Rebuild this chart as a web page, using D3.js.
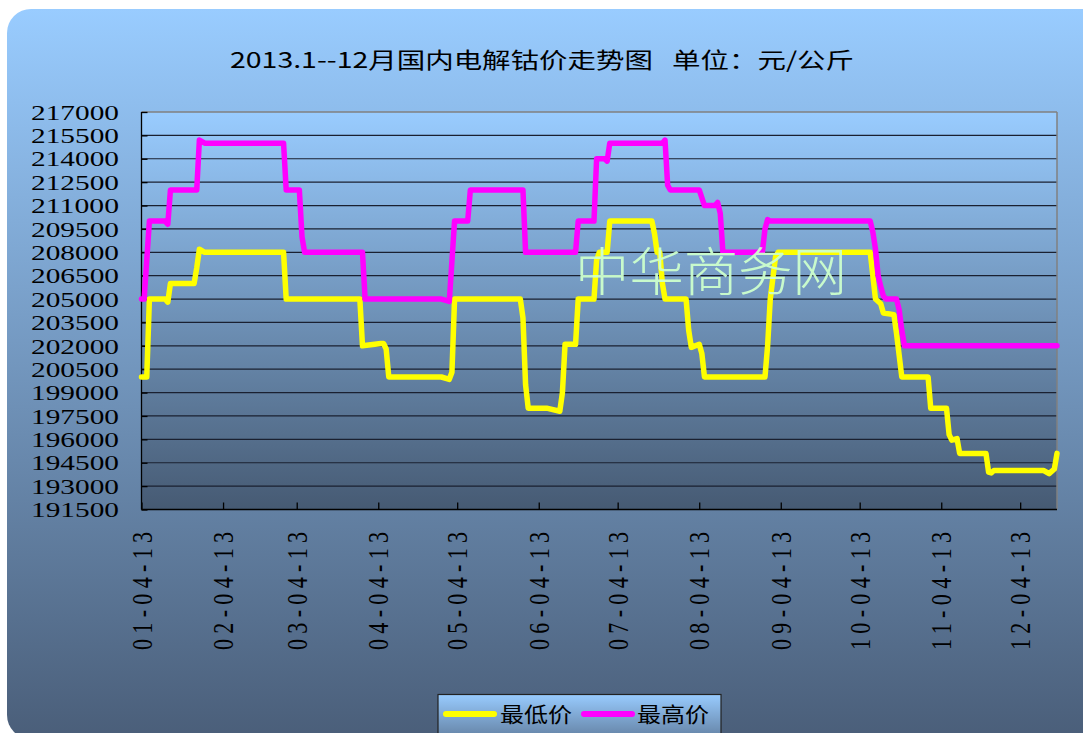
<!DOCTYPE html>
<html><head><meta charset="utf-8">
<script src="https://cdn.jsdelivr.net/npm/d3@7"></script>
<style>body{margin:0;background:#fff;} svg{display:block;}</style>
</head><body><svg id="chart" width="1083" height="733"></svg>
<script>
// ---------- data ----------
const chartTitle = "2013.1--12月国内电解钴价走势图\u00a0\u00a0\u00a0单位：元/公斤";
const seriesNames = ["最低价", "最高价"];
const seriesColors = ["#ffff00", "#ff00ff"];
const watermarkText = "中华商务网";

const lowDates = ["2013-01-04","2013-01-06","2013-01-07","2013-01-13","2013-01-14","2013-01-15","2013-01-24","2013-01-25","2013-01-26","2013-01-28",
  "2013-02-27","2013-02-28","2013-03-28","2013-03-29","2013-04-05","2013-04-06","2013-04-07","2013-04-08","2013-04-28","2013-05-01",
  "2013-05-02","2013-05-03","2013-05-28","2013-05-29","2013-05-30","2013-05-31","2013-06-07","2013-06-12","2013-06-13","2013-06-14",
  "2013-06-18","2013-06-19","2013-06-25","2013-06-26","2013-06-27","2013-06-30","2013-07-01","2013-07-17","2013-07-18","2013-07-19",
  "2013-07-20","2013-07-21","2013-07-22","2013-07-30","2013-07-31","2013-08-01","2013-08-04","2013-08-05","2013-08-06","2013-08-29",
  "2013-08-30","2013-08-31","2013-09-02","2013-09-03","2013-10-08","2013-10-10","2013-10-12","2013-10-13","2013-10-17","2013-10-18",
  "2013-10-20","2013-10-30","2013-10-31","2013-11-06","2013-11-07","2013-11-08","2013-11-10","2013-11-11","2013-11-21","2013-11-22",
  "2013-11-23","2013-11-24","2013-12-13","2013-12-15","2013-12-17","2013-12-18"];
const lowValues = [200000,200000,205000,205000,204800,206000,206000,207000,208200,208000,
  208000,205000,205000,202000,202150,202150,201800,200000,200000,199850,
  200300,205000,205000,203800,199500,198000,198000,197800,199000,202100,
  202100,205000,205000,207500,208000,208000,210000,210000,209200,208000,
  208000,206000,205000,205000,203000,201900,202100,201500,200000,200000,
  202000,205000,207700,208000,208000,205000,204700,204100,204000,202800,
  200000,200000,198000,198000,196300,195950,196050,195100,195100,193900,
  193850,194000,194000,193800,194100,195100];

const highDates = ["2013-01-04","2013-01-05","2013-01-07","2013-01-13","2013-01-14","2013-01-15","2013-01-25","2013-01-26","2013-01-28","2013-02-27",
  "2013-02-28","2013-03-05","2013-03-06","2013-03-07","2013-03-29","2013-03-30","2013-04-28","2013-05-01","2013-05-03","2013-05-08",
  "2013-05-09","2013-05-29","2013-05-30","2013-06-18","2013-06-19","2013-06-25","2013-06-26","2013-06-29","2013-06-30","2013-07-01",
  "2013-07-21","2013-07-22","2013-07-23","2013-07-24","2013-08-04","2013-08-06","2013-08-10","2013-08-11","2013-08-12","2013-08-13",
  "2013-08-28","2013-08-29","2013-08-30","2013-08-31","2013-10-08","2013-10-09","2013-10-10","2013-10-11","2013-10-12","2013-10-13",
  "2013-10-14","2013-10-18","2013-10-19","2013-10-20","2013-10-21","2013-12-18"];
const highValues = [205000,205000,210000,210000,209800,212000,212000,215200,215000,215000,
  212000,212000,209000,208000,208000,205000,205000,204850,210000,210000,
  212000,212000,208000,208000,210000,210000,214000,214000,213850,215000,
  215000,215200,212300,212000,212000,211000,211000,211200,210500,208000,
  208000,209500,210100,210000,210000,209300,208200,206500,205800,205200,
  205000,205000,204300,203000,202000,202000];

const yTickValues = [191500,193000,194500,196000,197500,199000,200500,202000,203500,205000,206500,208000,209500,211000,212500,214000,215500,217000];
const xTickDates = ["2013-01-04","2013-02-04","2013-03-04","2013-04-04","2013-05-04","2013-06-04","2013-07-04","2013-08-04","2013-09-04","2013-10-04","2013-11-04","2013-12-04"];
const xDomain = ["2013-01-04", "2013-12-18"];

// ---------- drawing ----------
const parse = d3.timeParse("%Y-%m-%d");
const fmt = d3.timeFormat("%m-%d-%y");
const svg = d3.select("#chart");
const P = {left: 141.5, right: 1057, top: 112, bottom: 509.5};

const defs = svg.append("defs");
function vgrad(id, stops, y1, y2) {
  const g = defs.append("linearGradient").attr("id", id)
    .attr("gradientUnits", "userSpaceOnUse").attr("x1", 0).attr("x2", 0).attr("y1", y1).attr("y2", y2);
  stops.forEach(s => g.append("stop").attr("offset", s[0]).attr("stop-color", s[1]));
}
vgrad("bgGrad", [[0, "#99ccff"], [1, "#4a5e79"]], 9, 739);
vgrad("plotGrad", [[0, "#99ccff"], [1, "#465a73"]], P.top, P.bottom);
vgrad("legGrad", [[0, "#99ccff"], [1, "#5d7898"]], 694, 744);

svg.append("rect").attr("x", 7).attr("y", 9).attr("width", 1100).attr("height", 730)
  .attr("rx", 24).attr("fill", "url(#bgGrad)");

const x = d3.scaleTime().domain(xDomain.map(parse)).range([P.left, P.right]);
const y = d3.scaleLinear().domain([191500, 217000]).range([P.bottom, P.top]);

svg.append("rect").attr("x", P.left).attr("y", P.top).attr("width", P.right - P.left)
  .attr("height", P.bottom - P.top).attr("fill", "url(#plotGrad)");

// gridlines
svg.append("g").selectAll("line").data(yTickValues.filter(v => v !== 191500 && v !== 217000)).join("line")
  .attr("x1", P.left).attr("x2", P.right).attr("y1", d => y(d)).attr("y2", d => y(d))
  .attr("stroke", "#1a2030").attr("stroke-width", 1.2);

// borders
svg.append("line").attr("x1", P.left).attr("x2", P.right).attr("y1", P.top).attr("y2", P.top)
  .attr("stroke", "#808080").attr("stroke-width", 1.5);
svg.append("line").attr("x1", P.right).attr("x2", P.right).attr("y1", P.top).attr("y2", P.bottom)
  .attr("stroke", "#808080").attr("stroke-width", 1.5);

// y axis
const yAxis = d3.axisRight(y).tickValues(yTickValues).tickSize(6).tickFormat("");
const ya = svg.append("g").attr("transform", `translate(${P.left},0)`).call(yAxis);
ya.selectAll("path,line").attr("stroke", "#000").attr("stroke-width", 1.3);
ya.select(".domain").attr("d", `M0,${P.top}V${P.bottom}`);

svg.append("g").selectAll("text").data(yTickValues).join("text")
  .attr("x", 119).attr("y", d => y(d)).attr("dy", "0.35em")
  .attr("text-anchor", "end")
  .attr("textLength", 88).attr("lengthAdjust", "spacingAndGlyphs")
  .attr("font-family", "'Liberation Serif', 'DejaVu Serif', serif").attr("font-size", 22)
  .attr("fill", "#000").text(d => d);

// x axis
const xAxis = d3.axisTop(x).tickValues(xTickDates.map(parse)).tickSize(7).tickFormat("");
const xa = svg.append("g").attr("transform", `translate(0,${P.bottom})`).call(xAxis);
xa.selectAll("path,line").attr("stroke", "#000").attr("stroke-width", 1.3);
xa.select(".domain").attr("d", `M${P.left},0H${P.right}`);

svg.append("g").selectAll("text").data(xTickDates).join("text")
  .attr("transform", d => `translate(${x(parse(d))},650) scale(1.3,1) rotate(-90)`)
  .attr("x", 0).attr("y", 0).attr("dy", "0.35em")
  .attr("text-anchor", "start")
  .attr("textLength", 118).attr("lengthAdjust", "spacing")
  .attr("font-family", "'Liberation Serif', 'DejaVu Serif', serif").attr("font-size", 22)
  .attr("fill", "#000").text(d => fmt(parse(d)));

// lines
const line = d3.line().x(d => x(d[0])).y(d => y(d[1]));
const series = [
  lowDates.map((d, i) => [parse(d), lowValues[i]]),
  highDates.map((d, i) => [parse(d), highValues[i]])
];
svg.append("g").selectAll("path").data(series).join("path")
  .attr("d", line).attr("fill", "none")
  .attr("stroke", (d, i) => seriesColors[i]).attr("stroke-width", 5.5)
  .attr("stroke-linejoin", "round").attr("stroke-linecap", "round");

// watermark
svg.append("text").attr("x", 575).attr("y", 291)
  .attr("textLength", 272).attr("lengthAdjust", "spacingAndGlyphs")
  .attr("font-family", "'Noto Sans CJK SC', sans-serif").attr("font-weight", 300)
  .attr("font-size", 52).attr("fill", "#ccffcc").attr("fill-opacity", 0.95)
  .text(watermarkText);

// title
svg.append("text").attr("x", 542).attr("y", 68).attr("text-anchor", "middle")
  .attr("textLength", 624).attr("lengthAdjust", "spacingAndGlyphs")
  .attr("font-family", "'Noto Sans CJK SC', sans-serif").attr("font-size", 22)
  .attr("fill", "#000").text(chartTitle);

// legend
const leg = svg.append("g");
leg.append("rect").attr("x", 438).attr("y", 694.5).attr("width", 283).attr("height", 50)
  .attr("fill", "url(#legGrad)").attr("stroke", "#222").attr("stroke-width", 1.2);
const legItems = [{x1: 446, x2: 494, tx: 500}, {x1: 584, x2: 632, tx: 637}];
legItems.forEach((it, i) => {
  leg.append("line").attr("x1", it.x1).attr("x2", it.x2).attr("y1", 714).attr("y2", 714)
    .attr("stroke", seriesColors[i]).attr("stroke-width", 6).attr("stroke-linecap", "round");
  leg.append("text").attr("x", it.tx).attr("y", 722)
    .attr("textLength", 72).attr("lengthAdjust", "spacingAndGlyphs")
    .attr("font-family", "'Noto Sans CJK SC', sans-serif").attr("font-size", 21)
    .attr("fill", "#000").text(seriesNames[i]);
});
</script>
</body></html>
